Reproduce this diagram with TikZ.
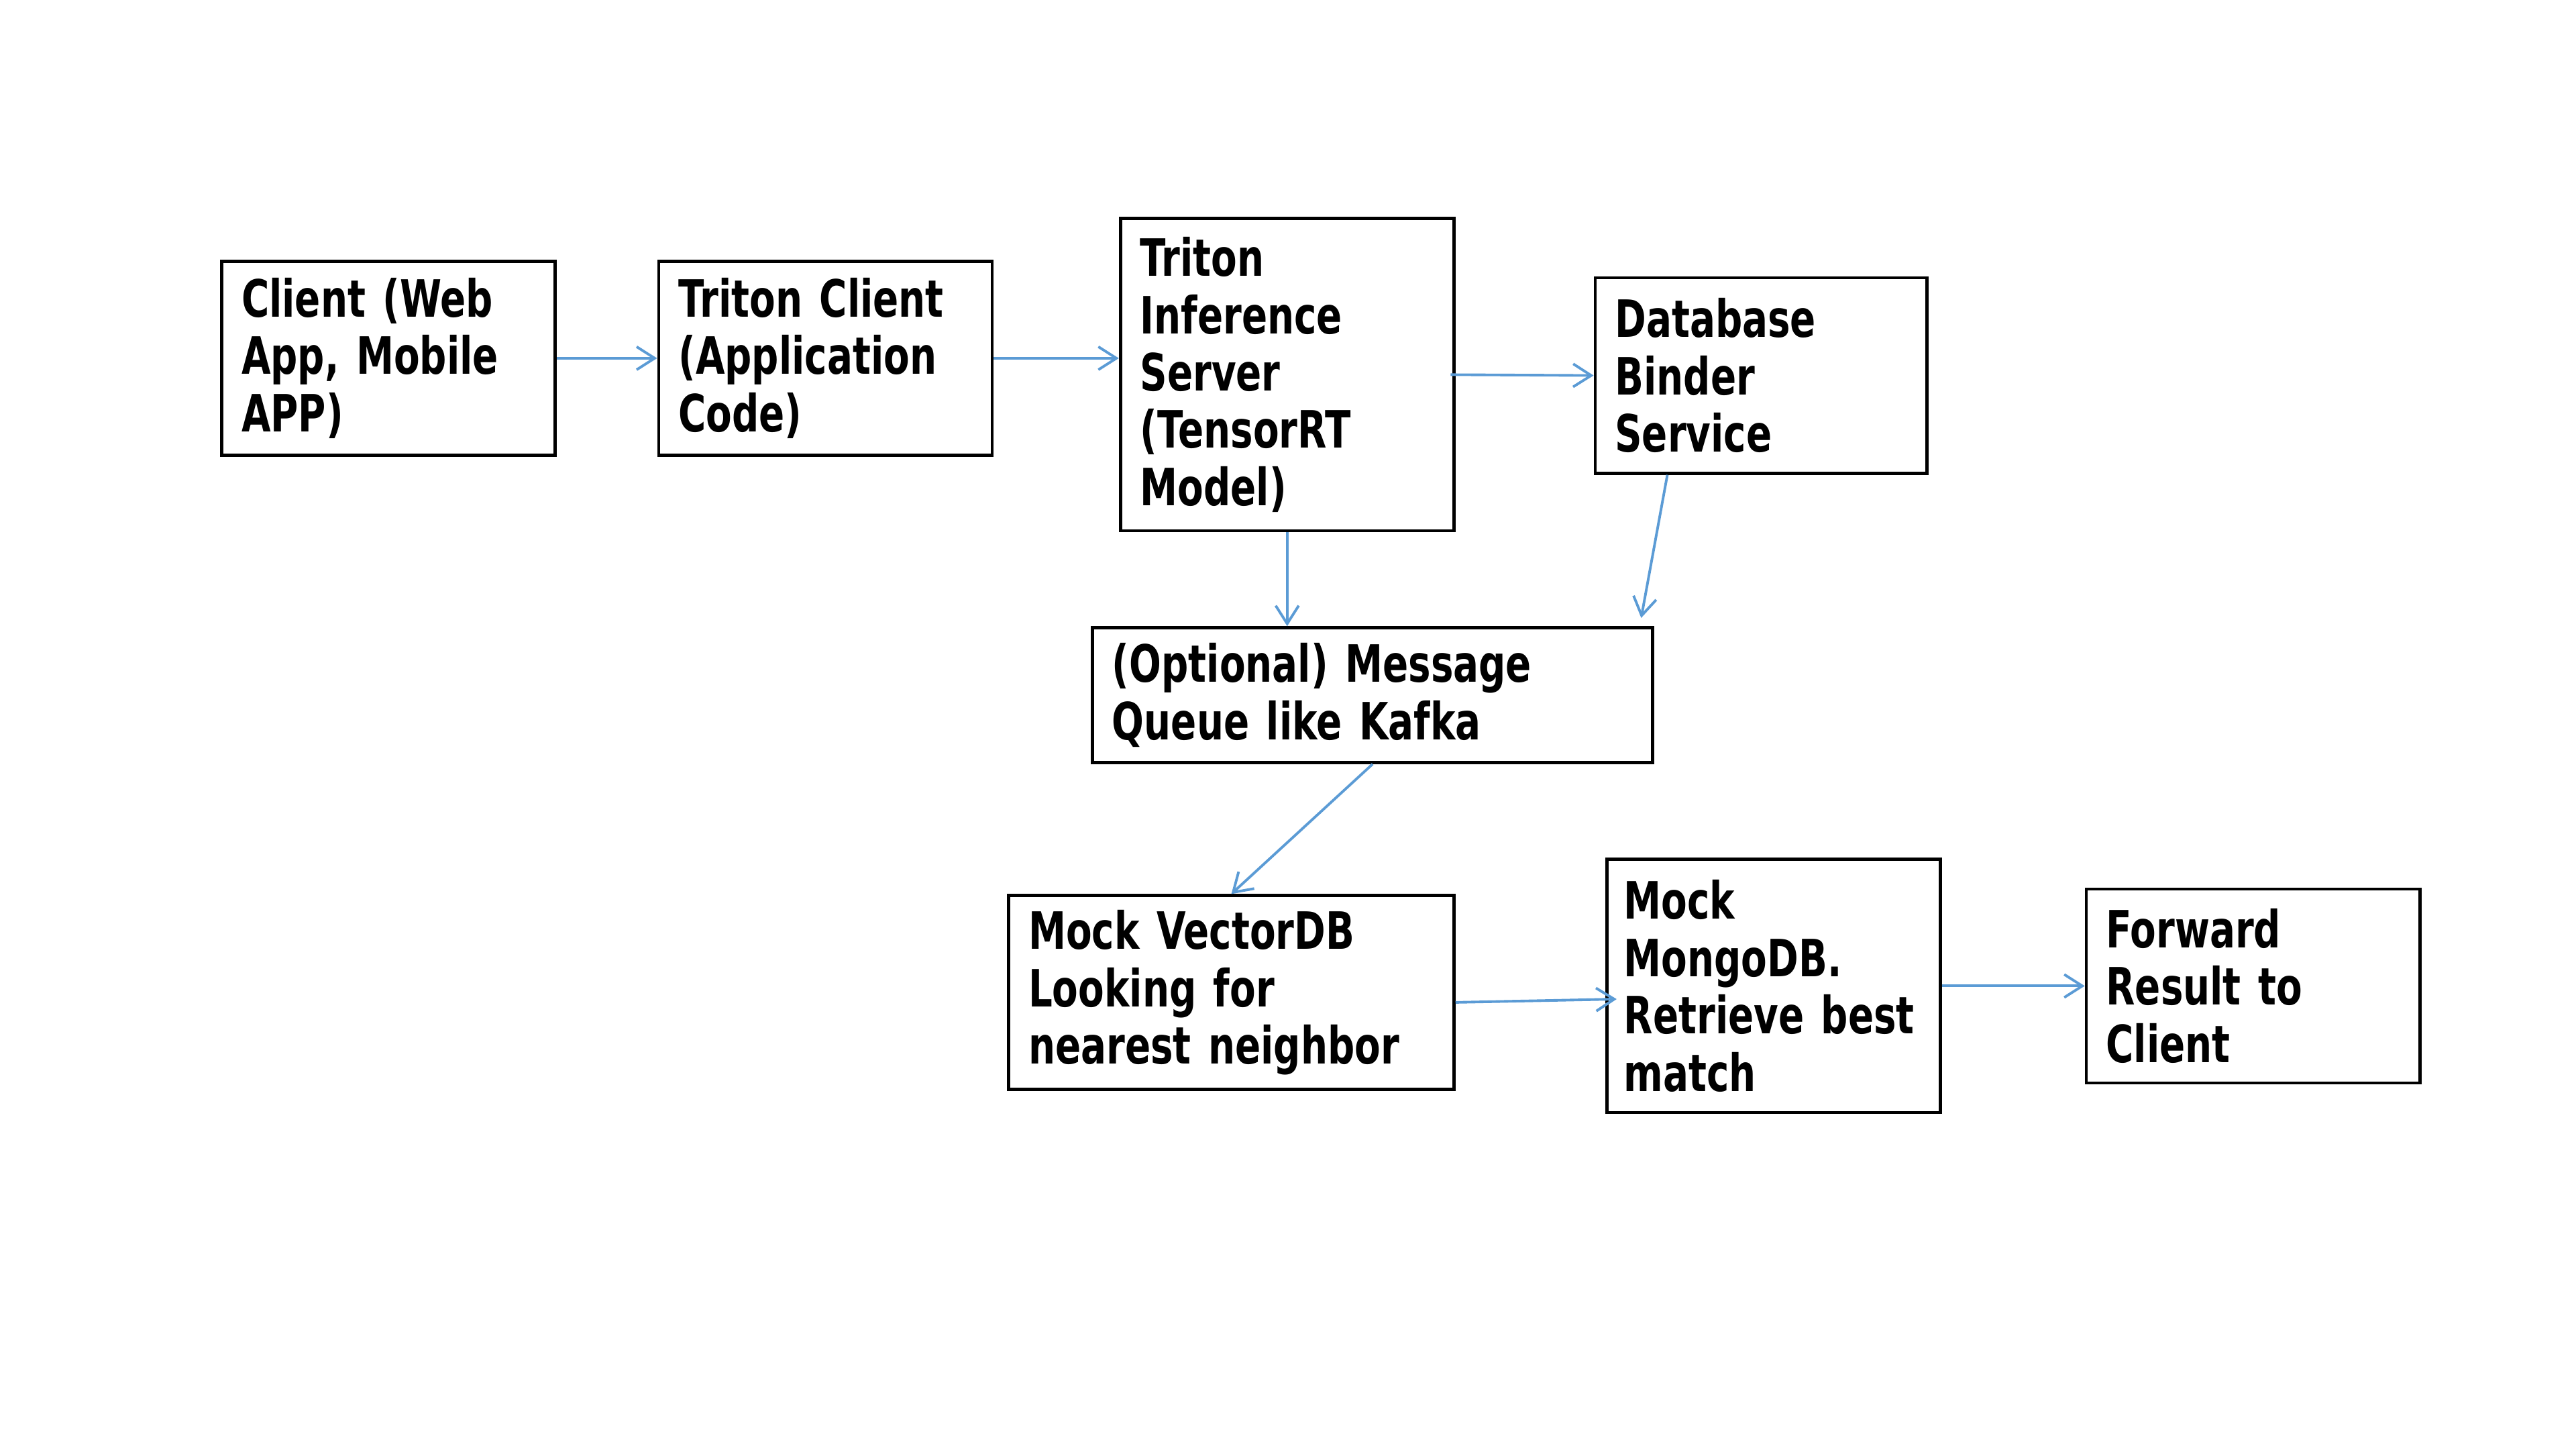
\documentclass[tikz,border=0pt]{standalone}
\usepackage{fontspec}
\setmainfont{DejaVu Sans}[FakeStretch=0.735]
\usepackage{xcolor}
\usepackage{tikz}
\usetikzlibrary{arrows.meta,positioning,calc}
\definecolor{flowblue}{RGB}{91,155,213}

\begin{document}
\begin{tikzpicture}[
    box/.style={rectangle, draw, line width=0.55pt, align=left, inner xsep=0.12cm, inner ysep=0pt, font=\fontsize{8.9}{9.92}\selectfont\bfseries},
    flow/.style={-{Straight Barb[length=1.1mm,width=1.4mm]}, draw=flowblue, line width=0.45pt}]
    \useasboundingbox (0,0) rectangle (15.68,8.82);

    \node (client) [box, text width=1.79cm, minimum height=1.18cm] at (2.365,6.64) {Client (Web\\App, Mobile\\APP)};
    \node (tclient) [box, text width=1.79cm, minimum height=1.18cm, right=0.61cm of client] {Triton Client\\(Application\\Code)};
    \node (server) [box, text width=1.79cm, minimum height=1.90cm] at (7.835,6.54) {Triton\\Inference\\Server\\(TensorRT\\Model)};
    \node (binder) [box, text width=1.78cm, minimum height=1.19cm] at (10.72,6.535) {Database\\Binder\\Service};
    \node (queue) [box, text width=3.17cm, minimum height=0.82cm] at (8.355,4.59) {(Optional) Message\\Queue like Kafka};
    \node (vector) [box, text width=2.47cm, minimum height=1.18cm] at (7.495,2.78) {Mock VectorDB\\Looking for\\nearest neighbor};
    \node (mongo) [box, text width=1.82cm, inner xsep=0.105cm, minimum height=1.54cm] at (10.795,2.82) {Mock\\MongoDB.\\Retrieve best\\match};
    \node (forward) [box, text width=1.79cm, minimum height=1.18cm, right=0.87cm of mongo] {Forward\\Result to\\Client};

    \draw [flow] (client) -- (tclient);
    \draw [flow] (tclient.east) -- (tclient.east -| server.west);
    \draw [flow] ($(server.east)+(-0.03,0)$) -- (binder.west);
    \draw [flow] (server.south) -- (server.south |- queue.north);
    \draw [flow] ($(binder.south west)!0.22!(binder.south east)$) -- ($(queue.north east)+(-0.08,0.05)$);
    \draw [flow] (queue.south) -- (vector.north);
    \draw [flow] ($(vector.east)+(0,-0.06)$) -- ($(mongo.west)+(0.07,-0.08)$);
    \draw [flow] (mongo) -- (forward);
\end{tikzpicture}
\end{document}
